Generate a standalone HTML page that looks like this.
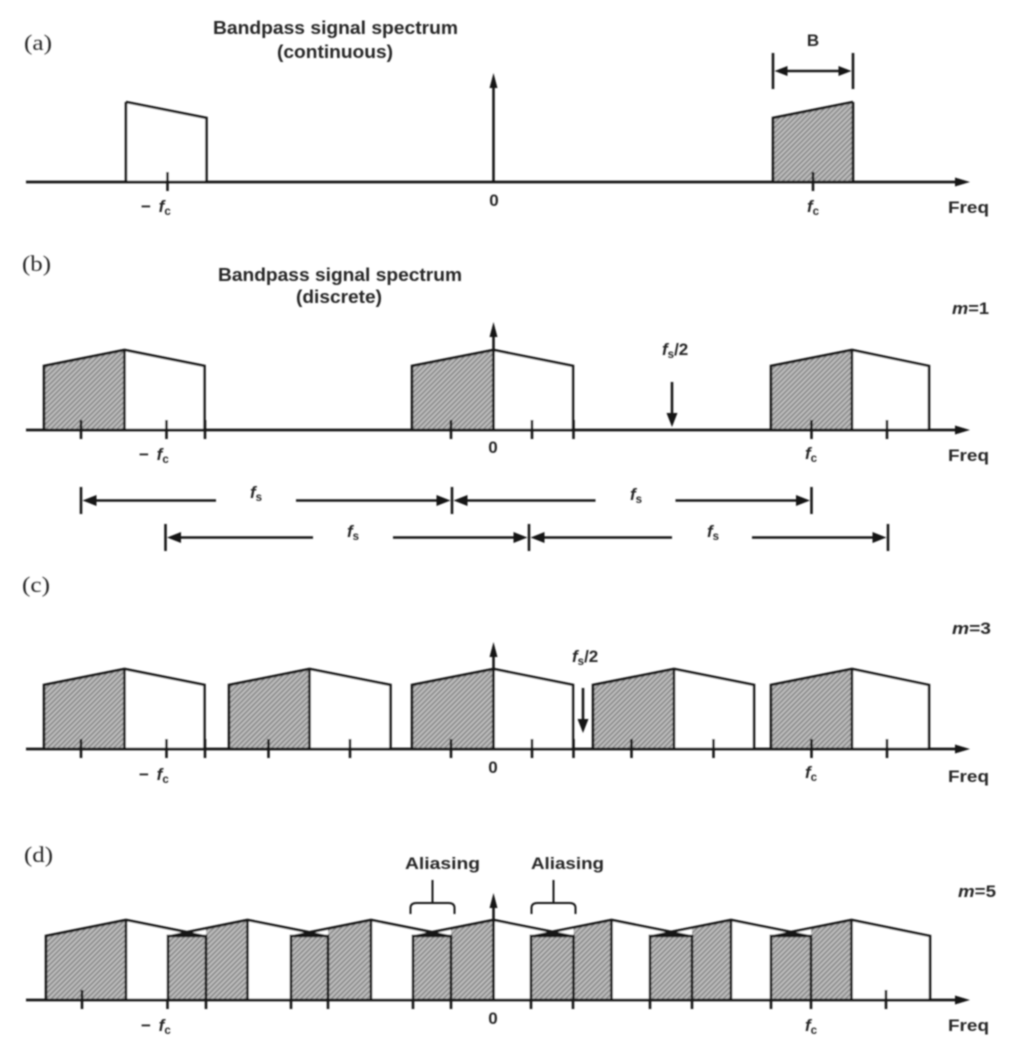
<!DOCTYPE html>
<html lang="en">
<head>
<meta charset="utf-8">
<title>Bandpass signal spectrum sampling</title>
<style>
html,body{margin:0;padding:0;background:#fff;width:1018px;height:1050px;overflow:hidden}
svg{display:block}
text{fill:#262626}
.ser{font-family:"Liberation Serif",serif;font-size:22px}
.san{font-family:"Liberation Sans",sans-serif;font-size:18.5px;font-weight:bold}
.lab{font-family:"Liberation Sans",sans-serif;font-size:17px;font-weight:bold}
.it{font-style:italic}
.sub{font-size:11.5px;font-weight:bold}
</style>
</head>
<body>
<svg id="chart" xmlns="http://www.w3.org/2000/svg" width="1018" height="1050" viewBox="0 0 1018 1050">
<defs>
<filter id="soft" x="-5%" y="-5%" width="110%" height="110%"><feGaussianBlur stdDeviation="0.7"/></filter>
<pattern id="hatch" patternUnits="userSpaceOnUse" width="3.6" height="3.6" patternTransform="rotate(45)">
<rect width="3.6" height="3.6" fill="#c0c0c0"/>
<rect width="1.8" height="3.6" fill="#8c8c8c"/>
</pattern>
</defs>
<g id="root" filter="url(#soft)">
<g id="marks"></g>
<g>
<text class="ser" x="24" y="50" textLength="28" lengthAdjust="spacingAndGlyphs">(a)</text>
<text class="san" x="213" y="34" textLength="245" lengthAdjust="spacingAndGlyphs">Bandpass signal spectrum</text>
<text class="san" x="277" y="58" textLength="116" lengthAdjust="spacingAndGlyphs">(continuous)</text>
<text class="lab" x="813" y="46" text-anchor="middle">B</text>
<text class="lab" x="141" y="212">− <tspan class="it" dx="3">f</tspan><tspan class="sub" dy="3">c</tspan></text>
<text class="lab" x="494" y="206" text-anchor="middle">0</text>
<text class="lab" x="807" y="212"><tspan class="it">f</tspan><tspan class="sub" dy="3">c</tspan></text>
<text class="lab" x="948" y="213" textLength="41" lengthAdjust="spacingAndGlyphs">Freq</text>

<text class="ser" x="22" y="271" textLength="29" lengthAdjust="spacingAndGlyphs">(b)</text>
<text class="san" x="218" y="281" textLength="244" lengthAdjust="spacingAndGlyphs">Bandpass signal spectrum</text>
<text class="san" x="296" y="303" textLength="86" lengthAdjust="spacingAndGlyphs">(discrete)</text>
<text class="lab" x="952" y="314" textLength="37" lengthAdjust="spacingAndGlyphs"><tspan class="it">m</tspan>=1</text>
<text class="lab" x="662" y="355"><tspan class="it">f</tspan><tspan class="sub" dy="3">s</tspan><tspan dy="-3">/2</tspan></text>
<text class="lab" x="139" y="460">− <tspan class="it" dx="3">f</tspan><tspan class="sub" dy="3">c</tspan></text>
<text class="lab" x="493" y="453" text-anchor="middle">0</text>
<text class="lab" x="805" y="459"><tspan class="it">f</tspan><tspan class="sub" dy="3">c</tspan></text>
<text class="lab" x="948" y="461" textLength="41" lengthAdjust="spacingAndGlyphs">Freq</text>
<text class="lab" x="256" y="498" text-anchor="middle"><tspan class="it">f</tspan><tspan class="sub" dy="3">s</tspan></text>
<text class="lab" x="636" y="500" text-anchor="middle"><tspan class="it">f</tspan><tspan class="sub" dy="3">s</tspan></text>
<text class="lab" x="353" y="537" text-anchor="middle"><tspan class="it">f</tspan><tspan class="sub" dy="3">s</tspan></text>
<text class="lab" x="713" y="537" text-anchor="middle"><tspan class="it">f</tspan><tspan class="sub" dy="3">s</tspan></text>

<text class="ser" x="22" y="592" textLength="28" lengthAdjust="spacingAndGlyphs">(c)</text>
<text class="lab" x="952" y="634" textLength="39" lengthAdjust="spacingAndGlyphs"><tspan class="it">m</tspan>=3</text>
<text class="lab" x="572" y="662"><tspan class="it">f</tspan><tspan class="sub" dy="3">s</tspan><tspan dy="-3">/2</tspan></text>
<text class="lab" x="139" y="780">− <tspan class="it" dx="3">f</tspan><tspan class="sub" dy="3">c</tspan></text>
<text class="lab" x="493" y="773" text-anchor="middle">0</text>
<text class="lab" x="805" y="778"><tspan class="it">f</tspan><tspan class="sub" dy="3">c</tspan></text>
<text class="lab" x="948" y="782" textLength="41" lengthAdjust="spacingAndGlyphs">Freq</text>

<text class="ser" x="24" y="862" textLength="29" lengthAdjust="spacingAndGlyphs">(d)</text>
<text class="lab" x="405" y="869" textLength="75" lengthAdjust="spacingAndGlyphs">Aliasing</text>
<text class="lab" x="531" y="869" textLength="73" lengthAdjust="spacingAndGlyphs">Aliasing</text>
<text class="lab" x="958" y="897" textLength="38" lengthAdjust="spacingAndGlyphs"><tspan class="it">m</tspan>=5</text>
<text class="lab" x="141" y="1031">− <tspan class="it" dx="3">f</tspan><tspan class="sub" dy="3">c</tspan></text>
<text class="lab" x="493" y="1024" text-anchor="middle">0</text>
<text class="lab" x="805" y="1031"><tspan class="it">f</tspan><tspan class="sub" dy="3">c</tspan></text>
<text class="lab" x="948" y="1031" textLength="41" lengthAdjust="spacingAndGlyphs">Freq</text>
</g>
</g>
</svg>
<script>
// Frequency offsets from DC, in diagram units. null = that half of the band is absent.
const aStarts = [null, 279.5];
const aPeaks = [-367.5, 359.5];
const aEnds = [-287, null];
const aTicks = [-326, 319.5];

const bStarts = [-449.5, -81.5, 277.5];
const bPeaks = [-369, 0, 358.5];
const bEnds = [-289, 79.5, 435.5];
const bTicks = [-412.5, -327, -288.5, -42.5, 38.5, 80, 318, 393.5];

const cStarts = [-449.5, -264.5, -81.5, 99.5, 277.5];
const cPeaks = [-369, -184, 0, 180.5, 358.5];
const cEnds = [-289, -103, 79.5, 260.5, 435.5];
const cTicks = [-412.5, -327, -288.5, -225, -143.5, -42.5, 38.5, 80, 138, 220, 318, 393.5];

const dStarts = [-447.5, -325.5, -202.5, -80.5, 37.5, 156.5, 277.5];
const dPeaks = [-367.5, -246, -122.5, 0, 118, 237.5, 358];
const dEnds = [-287.5, -165.5, -42.5, 80, 198.5, 317.5, 436.5];
const dTicks = [-326, -287.5, -202.5, -165.5, -80.5, -42.5, 37.5, 79.5, 156.5, 198.5, 277.5, 317.5];
const dTallTicks = [-411.5, 392.5];

// Relative magnitudes of each band.
const edgeAmplitude = [0.8];
const peakAmplitude = [1.0];

// Sample-rate spans and half-rate markers.
const fsRowOne = [-412.5, -41.5, 318];
const fsRowOneLabels = [-237.5, 142];
const fsRowTwo = [-328, 35.5, 394.5];
const fsRowTwoLabels = [-140.5, 218.5];
const halfRateB = [178.5];
const halfRateC = [89.5];
const aliasCentres = [-61, 60];
const bandwidthEdges = [279.5, 359.5];

const NS = 'http://www.w3.org/2000/svg';
const marks = document.getElementById('marks');
const INK = '#151515';
const LW = 2.6;

const xScale = f => 493.5 + f;
const yScale = (base, amp) => base - amp * 80;

function node(tag, attrs) {
  const el = document.createElementNS(NS, tag);
  for (const k in attrs) el.setAttribute(k, attrs[k]);
  marks.appendChild(el);
  return el;
}
function line(x1, y1, x2, y2, w) {
  return node('line', {x1, y1, x2, y2, stroke: INK, 'stroke-width': w || LW, 'stroke-linecap': 'butt'});
}
function head(tipX, tipY, dx, dy, len, half) {
  const bx = tipX - dx * len, by = tipY - dy * len;
  const p = `${tipX},${tipY} ${bx - dy * half},${by - dx * half} ${bx + dy * half},${by + dx * half}`;
  return node('polygon', {points: p, fill: INK});
}

function drawPanel(key, base, starts, peaks, ends, ticks, tallTicks, zeroTop) {
  const low = yScale(base, edgeAmplitude[0]);
  const high = yScale(base, peakAmplitude[0]);

  // Roof heights along the rising and falling sides of a band.
  const rise = (i, f) => low + (high - low) * (f - starts[i]) / (peaks[i] - starts[i]);
  const fall = (i, f) => high + (low - high) * (f - peaks[i]) / (ends[i] - peaks[i]);
  const overlaps = i => i > 0 && i < peaks.length && starts[i] !== null && ends[i - 1] !== null && starts[i] < ends[i - 1];
  // Frequency where band i-1's falling side meets band i's rising side.
  const crossing = i => {
    const a = (high - low) / (peaks[i] - starts[i]);
    const b = (low - high) / (ends[i - 1] - peaks[i - 1]);
    return (high - b * peaks[i - 1] - low + a * starts[i]) / (a - b);
  };

  // White right-hand halves first, so shaded halves overlap them.
  peaks.forEach((p, i) => {
    if (ends[i] === null) return;
    const el = node('polygon', {points: `${xScale(p)},${base} ${xScale(p)},${high} ${xScale(ends[i])},${low} ${xScale(ends[i])},${base}`, fill: '#fff', stroke: 'none'});
    
    
  });
  peaks.forEach((p, i) => {
    if (starts[i] === null) return;
    const el = node('polygon', {points: `${xScale(starts[i])},${base} ${xScale(starts[i])},${low} ${xScale(p)},${high} ${xScale(p)},${base}`, fill: 'url(#hatch)', stroke: 'none'});
    
    
  });
  // Clear the wedge above each overlap box; the box keeps a flat top.
  peaks.forEach((p, i) => {
    if (!overlaps(i)) return;
    const c = crossing(i), e = ends[i - 1];
    const el = node('polygon', {points: `${xScale(starts[i])},${low} ${xScale(c)},${rise(i, c)} ${xScale(e)},${rise(i, e)} ${xScale(e)},${low}`, fill: '#fff', stroke: 'none'});
    
    
  });
  // Outlines.
  peaks.forEach((p, i) => {
    let pts = '';
    if (starts[i] !== null) {
      if (overlaps(i)) {
        const c = crossing(i);
        pts += `${xScale(c)},${rise(i, c)} `;
      } else {
        pts += `${xScale(starts[i])},${base} ${xScale(starts[i])},${low} `;
      }
    }
    pts += `${xScale(p)},${high} `;
    if (ends[i] !== null) {
      if (overlaps(i + 1)) {
        const c = crossing(i + 1);
        pts += `${xScale(c)},${fall(i, c)}`;
      } else {
        pts += `${xScale(ends[i])},${low} ${xScale(ends[i])},${base}`;
      }
    }
    const el = node('polyline', {points: pts, fill: 'none', stroke: INK, 'stroke-width': LW, 'stroke-linejoin': 'miter'});
    
    
    const div = line(xScale(p), base, xScale(p), high);
    
    
    if (overlaps(i)) {
      const box = node('polyline', {points: `${xScale(starts[i])},${base} ${xScale(starts[i])},${low} ${xScale(ends[i - 1])},${low} ${xScale(ends[i - 1])},${base}`, fill: 'none', stroke: INK, 'stroke-width': LW});
      
      
      const c = crossing(i);
      const arms = node('polyline', {points: `${xScale(starts[i])},${low} ${xScale(c)},${rise(i, c)} ${xScale(ends[i - 1])},${low}`, fill: INK, stroke: INK, 'stroke-width': 1.6});
      
      
    }
  });

  // Frequency axis with arrow.
  const axis = line(26, base, 958, base, 2.8);
  
  
  const axisHead = head(970, base, 1, 0, 15, 4.5);
  
  

  // Vertical axis arrow at zero.
  const yAxis = line(xScale(0), base, xScale(0), zeroTop + 10);
  
  
  const yHead = head(xScale(0), zeroTop, 0, -1, 15, 4);
  
  

  // Ticks.
  ticks.forEach(t => {
    const top = tallTicks ? base : base - 10;
    const el = line(xScale(t), top, xScale(t), base + 9);
    
    
  });
  (tallTicks || []).forEach(t => {
    const el = line(xScale(t), base - 10, xScale(t), base + 9);
    
    
  });
}

function drawSpanRow(key, y, edges, labels) {
  edges.forEach(e => {
    const el = line(xScale(e), y - 13.5, xScale(e), y + 13.5);
    
    
  });
  labels.forEach((c, i) => {
    const a = xScale(edges[i]), b = xScale(edges[i + 1]), m = xScale(c);
    const l = line(a + 6, y, m - 40, y);
    
    
    const r = line(m + 40, y, b - 6, y);
    
    
    const hl = head(a + 1.5, y, -1, 0, 14, 5.5);
    
    
    const hr = head(b - 1.5, y, 1, 0, 14, 5.5);
    
    
  });
}

function drawDownArrow(key, f, top, tip) {
  const l = line(xScale(f), top, xScale(f), tip - 8);
  
  
  const h = head(xScale(f), tip, 0, 1, 14, 5.5);
  
  
}

drawPanel('a', 182, aStarts, aPeaks, aEnds, aTicks, null, 73);
drawPanel('b', 430, bStarts, bPeaks, bEnds, bTicks, null, 322);
drawPanel('c', 749, cStarts, cPeaks, cEnds, cTicks, null, 642);
drawPanel('d', 1000, dStarts, dPeaks, dEnds, dTicks, dTallTicks, 893);

// Bandwidth marker in panel (a).
bandwidthEdges.forEach(e => {
  const el = line(xScale(e), 53, xScale(e), 89);
  
  
});
const bwLine = line(xScale(bandwidthEdges[0]) + 6, 71, xScale(bandwidthEdges[1]) - 6, 71);


const bwLeft = head(xScale(bandwidthEdges[0]) + 1.5, 71, -1, 0, 13, 5);


const bwRight = head(xScale(bandwidthEdges[1]) - 1.5, 71, 1, 0, 13, 5);



drawDownArrow('b', halfRateB[0], 382, 427);
drawDownArrow('c', halfRateC[0], 688, 733);
drawSpanRow('row-1', 500.5, fsRowOne, fsRowOneLabels);
drawSpanRow('row-2', 537.5, fsRowTwo, fsRowTwoLabels);

// Aliasing braces in panel (d).
aliasCentres.forEach(c => {
  const m = xScale(c);
  const el = node('path', {d: `M${m},880 V902 M${m - 22},914 V908 Q${m - 22},903 ${m - 16},903 H${m + 16} Q${m + 22},903 ${m + 22},908 V914`, fill: 'none', stroke: INK, 'stroke-width': 2});
  
  
});
</script>
</body>
</html>
